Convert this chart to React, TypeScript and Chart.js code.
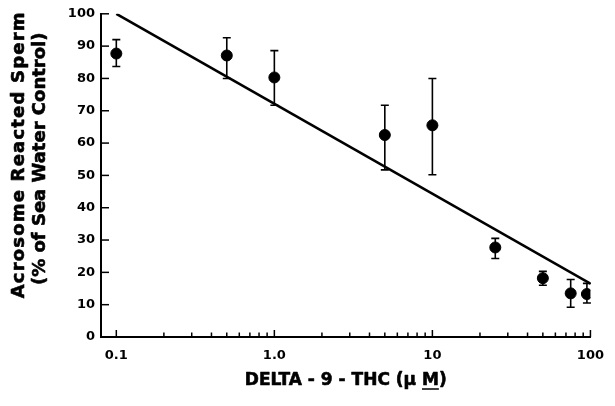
import React, { useEffect, useRef } from "react";
import { Chart, registerables } from "chart.js";

Chart.register(...registerables);

const concentrations = [0.1, 0.5, 1, 5, 10, 25, 50, 75, 95];
const meanValues = [87.7, 87.1, 80.3, 62.5, 65.5, 27.7, 18.2, 13.5, 13.3];
const upperValues = [92, 92.6, 88.6, 71.7, 80, 30.5, 20.3, 17.8, 16.6];
const lowerValues = [83.7, 80, 71.7, 51.7, 50.2, 24.3, 16, 9.2, 10.5];

const fitX = [0.1, 100];
const fitY = [100, 16.5];

const xTickValues = [
  0.1, 0.2, 0.3, 0.4, 0.5, 0.6, 0.7, 0.8, 0.9,
  1, 2, 3, 4, 5, 6, 7, 8, 9,
  10, 20, 30, 40, 50, 60, 70, 80, 90, 100,
];
const xMajorLabels: Record<string, string> = { "0.1": "0.1", "1": "1.0", "10": "10", "100": "100" };
const yTickValues = [0, 10, 20, 30, 40, 50, 60, 70, 80, 90, 100];

const yTitleLines = ["Acrosome Reacted Sperm", "(% of Sea Water Control)"];
const xTitlePrefix = "DELTA - 9 - THC (\u03BC ";
const xTitleUnit = "M";
const xTitleSuffix = ")";

const FONT = "'DejaVu Sans', Arial, sans-serif";

const decorPlugin = {
  id: "decor",
  afterDatasetsDraw(chart: any) {
    const ctx = chart.ctx;
    const xs = chart.scales.x;
    const ys = chart.scales.y;
    const area = chart.chartArea;
    ctx.save();
    ctx.strokeStyle = "#000";
    ctx.lineWidth = 1.6;
    for (let i = 0; i < concentrations.length; i++) {
      const px = xs.getPixelForValue(concentrations[i]);
      const pt = ys.getPixelForValue(upperValues[i]);
      const pb = ys.getPixelForValue(lowerValues[i]);
      ctx.beginPath();
      ctx.moveTo(px, pt);
      ctx.lineTo(px, pb);
      ctx.moveTo(px - 4, pt);
      ctx.lineTo(px + 4, pt);
      ctx.moveTo(px - 4, pb);
      ctx.lineTo(px + 4, pb);
      ctx.stroke();
    }
    ctx.lineWidth = 1.5;
    for (const v of xTickValues) {
      const px = xs.getPixelForValue(v);
      const major = xMajorLabels[String(v)] !== undefined;
      ctx.beginPath();
      ctx.moveTo(px, area.bottom);
      ctx.lineTo(px, area.bottom - (major ? 7 : 4.5));
      ctx.stroke();
    }
    for (const v of yTickValues) {
      const py = ys.getPixelForValue(v);
      ctx.beginPath();
      ctx.moveTo(area.left, py);
      ctx.lineTo(area.left + 8, py);
      ctx.stroke();
    }
    ctx.restore();
  },
  afterDraw(chart: any) {
    const ctx = chart.ctx;
    const area = chart.chartArea;
    ctx.save();
    ctx.fillStyle = "#000";
    ctx.strokeStyle = "#000";
    ctx.lineJoin = "round";
    // x title
    ctx.font = `bold 17px ${FONT}`;
    ctx.textBaseline = "middle";
    ctx.textAlign = "left";
    const full = xTitlePrefix + xTitleUnit + xTitleSuffix;
    const wFull = ctx.measureText(full).width;
    const wPre = ctx.measureText(xTitlePrefix).width;
    const wM = ctx.measureText(xTitleUnit).width;
    const cx = (area.left + area.right) / 2;
    const ty = area.bottom + 44;
    const x0 = cx - wFull / 2;
    ctx.lineWidth = 0.6;
    ctx.fillText(full, x0, ty);
    ctx.strokeText(full, x0, ty);
    ctx.lineWidth = 1.5;
    ctx.beginPath();
    ctx.moveTo(x0 + wPre, ty + 8);
    ctx.lineTo(x0 + wPre + wM, ty + 8);
    ctx.stroke();
    // y title
    ctx.font = `bold 18px ${FONT}`;
    ctx.textAlign = "center";
    const centers = [area.top + 141, area.top + 145];
    const lineX = [19, 40];
    const spacing = ["1.2px", "0px"];
    for (let i = 0; i < yTitleLines.length; i++) {
      ctx.save();
      (ctx as any).letterSpacing = spacing[i];
      ctx.translate(lineX[i], centers[i]);
      ctx.rotate(-Math.PI / 2);
      ctx.lineWidth = 0.6;
      ctx.fillText(yTitleLines[i], 0, 0);
      ctx.strokeText(yTitleLines[i], 0, 0);
      ctx.restore();
    }
    ctx.restore();
  },
};

export default function App() {
  const canvasRef = useRef<HTMLCanvasElement | null>(null);

  useEffect(() => {
    const canvas = canvasRef.current;
    if (!canvas) return;
    const chart = new Chart(canvas, {
      type: "scatter",
      data: {
        datasets: [
          {
            type: "scatter",
            data: concentrations.map((c, i) => ({ x: c, y: meanValues[i] })),
            backgroundColor: "#000",
            borderColor: "#000",
            pointRadius: 5.5,
            pointHoverRadius: 5.5,
          },
          {
            type: "line",
            data: fitX.map((x, i) => ({ x, y: fitY[i] })),
            borderColor: "#000",
            borderWidth: 2.5,
            pointRadius: 0,
            fill: false,
          } as any,
        ],
      },
      plugins: [decorPlugin],
      options: {
        responsive: false,
        animation: false,
        events: [],
        layout: { padding: { top: 12, right: 18, left: 0, bottom: 0 } },
        plugins: { legend: { display: false }, tooltip: { enabled: false } },
        scales: {
          x: {
            type: "logarithmic",
            min: 0.08,
            max: 100,
            grid: { display: true, drawOnChartArea: false, drawTicks: false },
            border: { display: true, color: "#000", width: 2 },
            afterBuildTicks: (scale: any) => {
              scale.ticks = xTickValues.map((v) => ({ value: v }));
            },
            afterFit: (scale: any) => {
              scale.height = 69;
            },
            ticks: {
              autoSkip: false,
              maxRotation: 0,
              padding: 11,
              color: "#000",
              font: { family: FONT, size: 13, weight: "bold" },
              callback: (v: any) => {
                const s = xMajorLabels[String(Number(v))];
                return s === undefined ? "" : s;
              },
            },
          },
          y: {
            type: "linear",
            min: 0,
            max: 100,
            grid: { display: true, drawOnChartArea: false, drawTicks: false },
            border: { display: true, color: "#000", width: 2 },
            afterBuildTicks: (scale: any) => {
              scale.ticks = yTickValues.map((v) => ({ value: v }));
            },
            afterFit: (scale: any) => {
              scale.width = 101;
            },
            ticks: {
              padding: 6,
              color: "#000",
              font: { family: FONT, size: 13, weight: "bold" },
              callback: (v: any) => String(v),
            },
          },
        },
      },
    });
    return () => chart.destroy();
  }, []);

  return (
    <div style={{ position: "fixed", left: 0, top: 0, width: 615, height: 406, background: "#fff" }}>
      <canvas ref={canvasRef} width={615} height={406} style={{ width: 615, height: 406 }} />
    </div>
  );
}
